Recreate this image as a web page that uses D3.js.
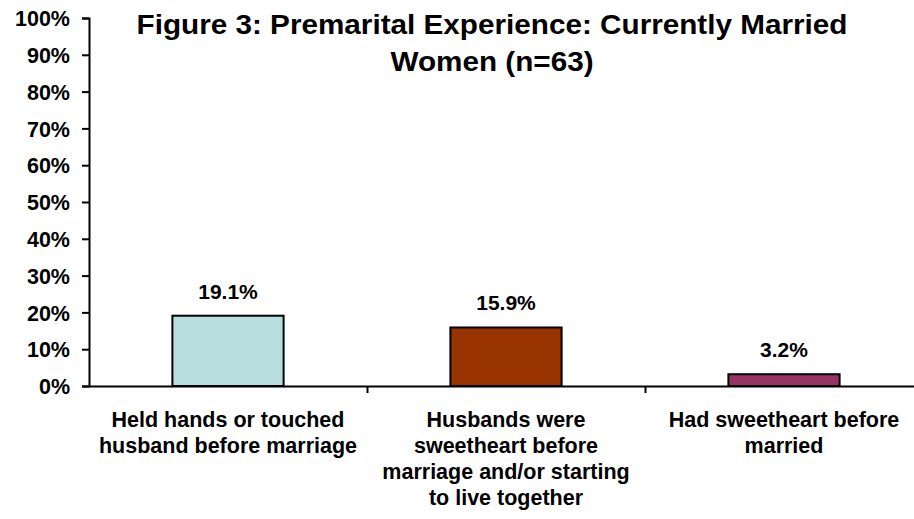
<!DOCTYPE html>
<html><head><meta charset="utf-8">
<script src="https://cdn.jsdelivr.net/npm/d3@7"></script>
<style>body{margin:0;background:#fff}svg{display:block}text{font-family:"Liberation Sans",Arial,sans-serif;font-weight:bold;fill:#000}</style>
</head><body><svg id="c" width="914" height="519"></svg>
<script>
const categories = [
  ["Held hands or touched", "husband before marriage"],
  ["Husbands were", "sweetheart before", "marriage and/or starting", "to live together"],
  ["Had sweetheart before", "married"]
];
const values = [19.1, 15.9, 3.2];
const valueLabels = ["19.1%", "15.9%", "3.2%"];
const colors = ["#B8DEE0", "#993300", "#993366"];
const yTicks = [0,10,20,30,40,50,60,70,80,90,100];
const titleLines = ["Figure 3: Premarital Experience: Currently Married", "Women (n=63)"];

const svg = d3.select("#c");
const pLeft = 89, pRight = 923, pTop = 18, pBottom = 386;
const x = d3.scaleBand().domain(d3.range(values.length)).range([pLeft, pRight]).paddingInner(0).paddingOuter(0);
const y = d3.scaleLinear().domain([0,100]).range([pBottom, pTop]);
const bw = x.bandwidth()*0.4;

// bars
svg.selectAll("rect.bar").data(values).enter().append("rect")
  .attr("x", (d,i)=>x(i)+x.bandwidth()/2-bw/2)
  .attr("y", d=>y(d)).attr("width", bw).attr("height", d=>pBottom-y(d))
  .attr("fill", (d,i)=>colors[i]).attr("stroke","#000").attr("stroke-width",2);

// value labels
svg.selectAll("text.val").data(values).enter().append("text")
  .attr("x",(d,i)=>x(i)+x.bandwidth()/2).attr("y",d=>y(d)-17)
  .attr("text-anchor","middle").style("font-size","21px").text((d,i)=>valueLabels[i]);

// y axis
const yAxis = d3.axisLeft(y).tickValues(yTicks).tickFormat(d=>d+"%").tickSize(7).tickSizeOuter(7);
const gy = svg.append("g").attr("transform",`translate(${pLeft},0)`).call(yAxis);
gy.select(".domain").attr("stroke","#000").attr("stroke-width",2);
gy.selectAll(".tick line").attr("stroke","#000").attr("stroke-width",2);
gy.selectAll(".tick text").attr("x",-19).attr("dy","0.36em").style("font-size","21.5px").style("font-family","Liberation Sans, Arial, sans-serif").style("font-weight","bold");

// x axis
const xb = d3.scaleLinear().domain([0, values.length]).range([pLeft, pRight]);
const xAxis = d3.axisBottom(xb).tickValues(d3.range(1, values.length)).tickFormat("").tickSize(7).tickSizeOuter(0);
const gx = svg.append("g").attr("transform",`translate(0,${pBottom})`).call(xAxis);
gx.select(".domain").attr("stroke","#000").attr("stroke-width",2);
gx.selectAll(".tick line").attr("stroke","#000").attr("stroke-width",2);

// category labels
categories.forEach((lines,i)=>{
  const t = svg.append("text").attr("text-anchor","middle").style("font-size","21.5px");
  lines.forEach((l,j)=>t.append("tspan").attr("x", x(i)+x.bandwidth()/2).attr("y", 427+j*26).text(l));
});

// title (slightly stretched horizontally like the reference)
const titleEls = titleLines.map((l,j)=>svg.append("text").attr("text-anchor","middle")
  .attr("x",492).attr("y",34+j*37).style("font-size","27px").text(l));
const k = 711 / titleEls[0].node().getComputedTextLength();
titleEls.forEach(t=>t.attr("textLength", t.node().getComputedTextLength()*k).attr("lengthAdjust","spacingAndGlyphs"));
</script></body></html>
